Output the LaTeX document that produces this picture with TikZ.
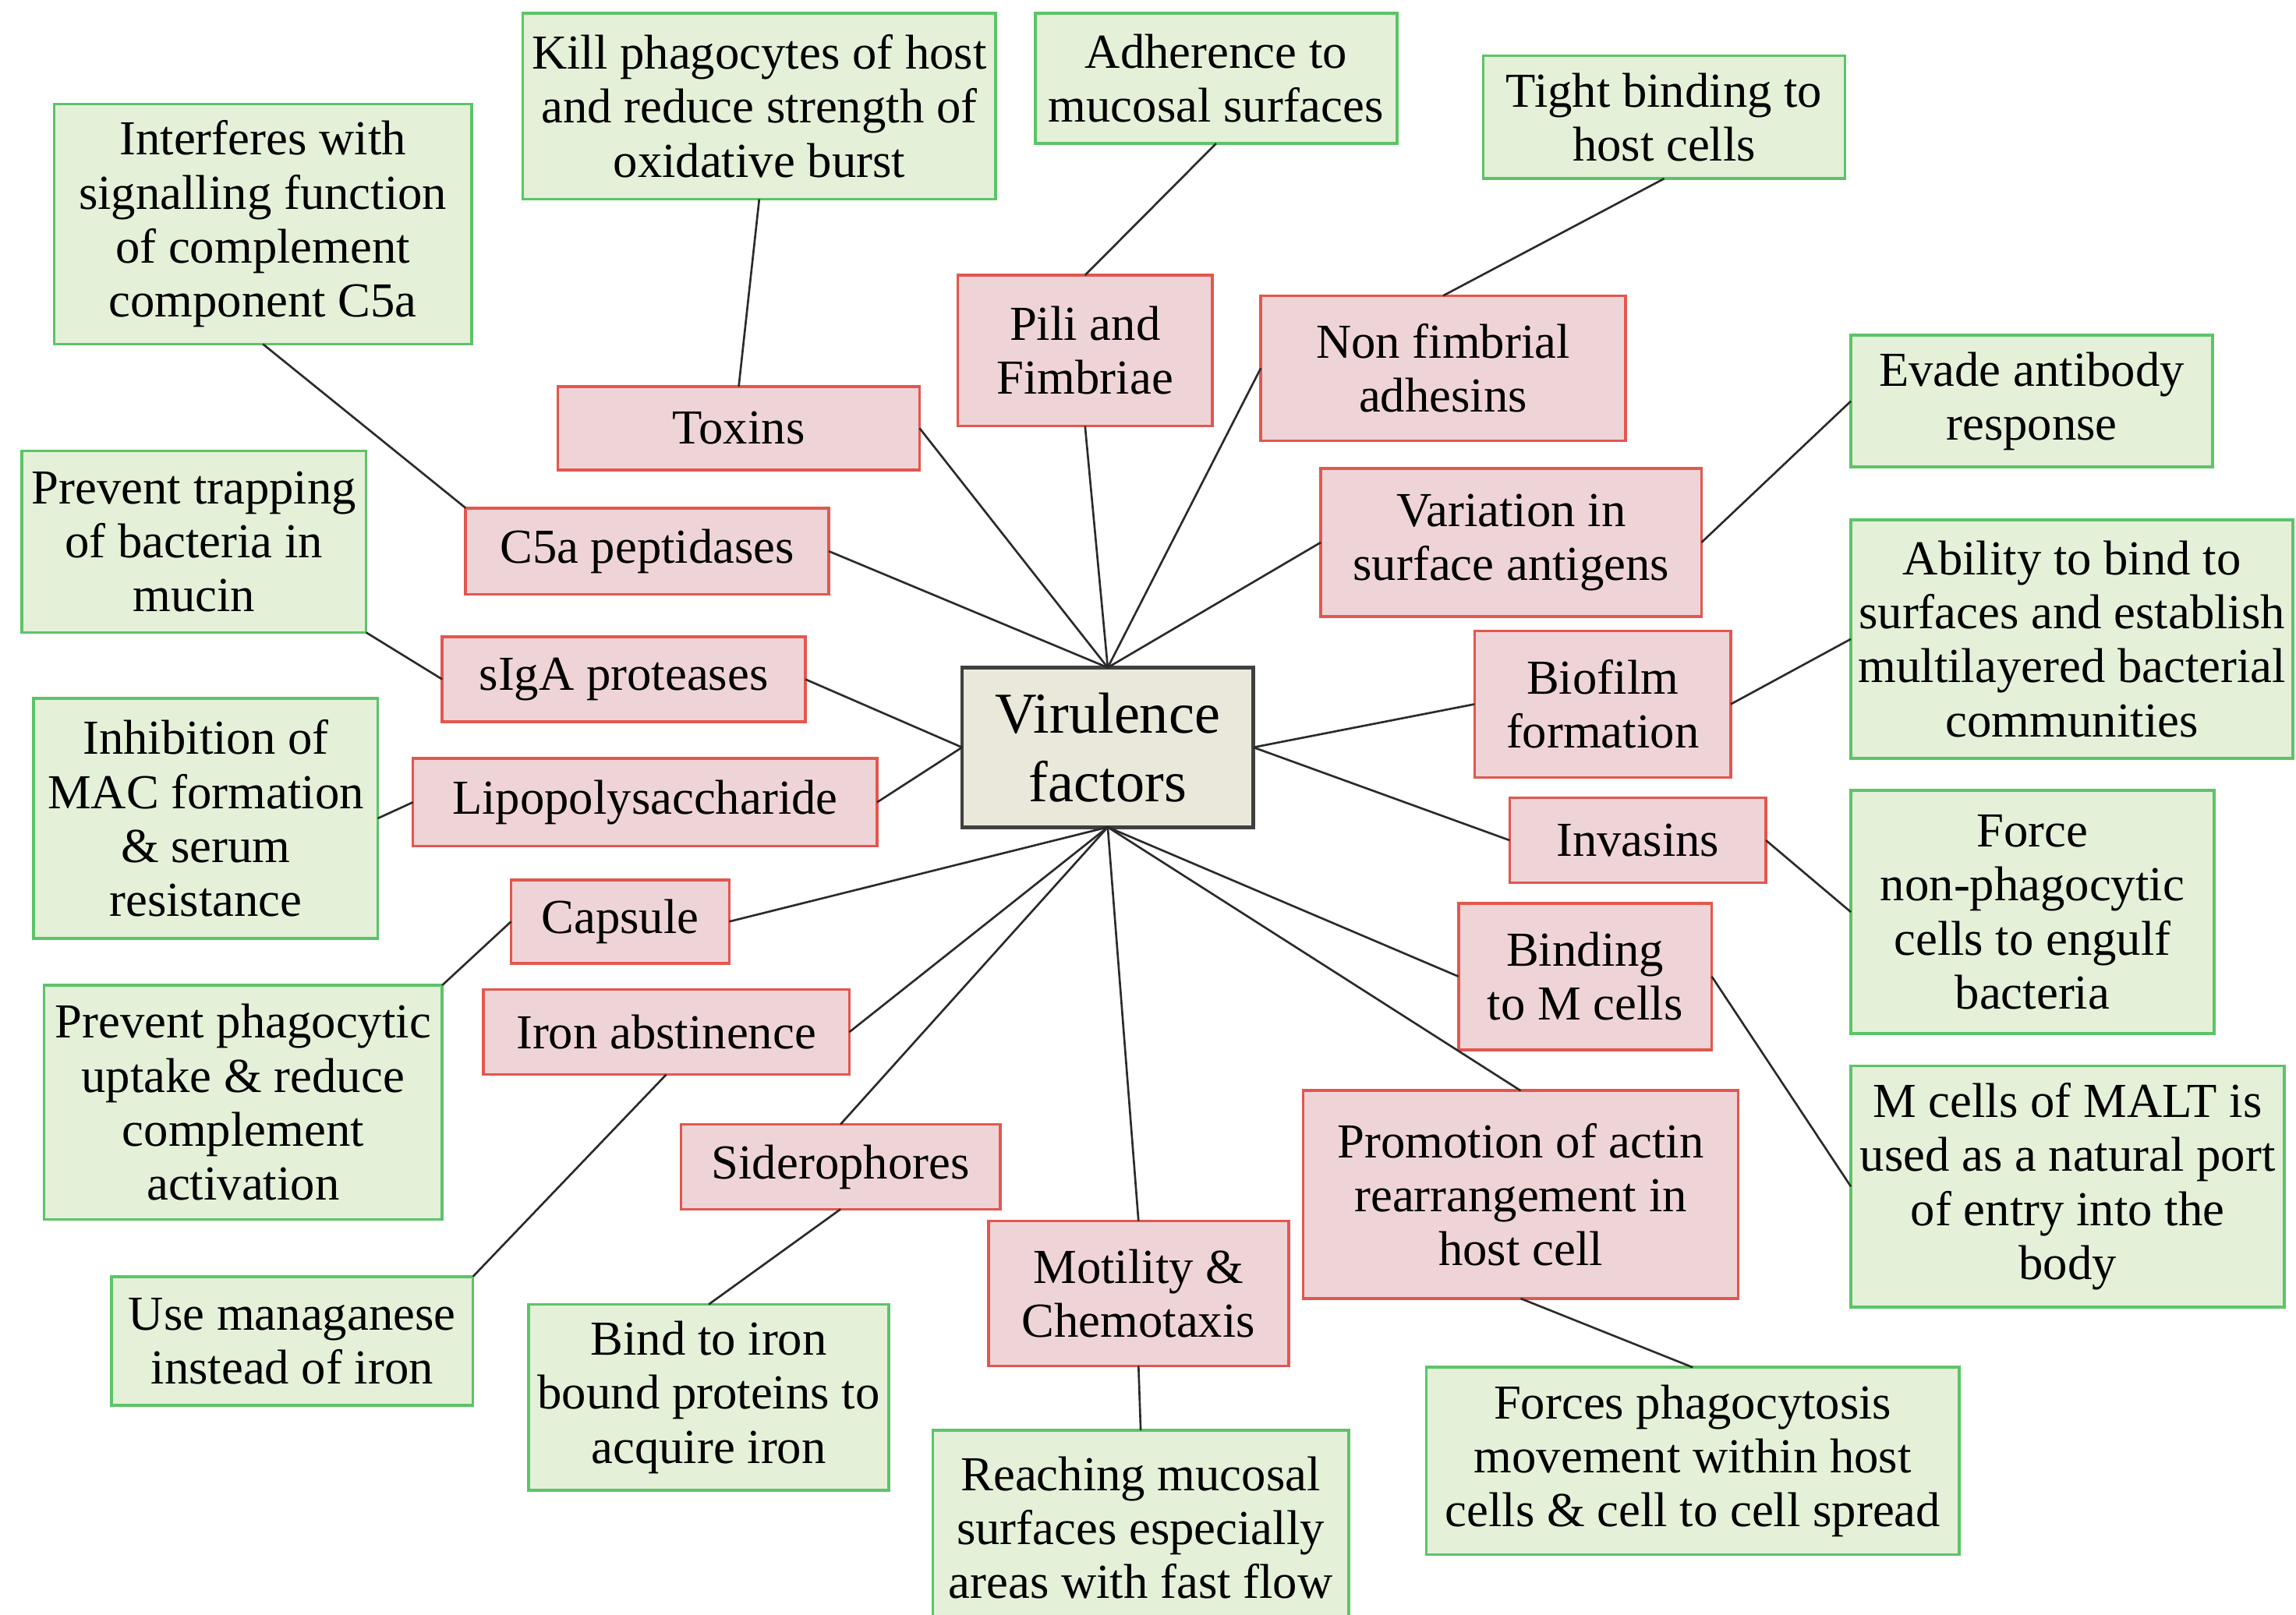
\documentclass[tikz,border=0pt]{standalone}
\usepackage{fontspec}
\setmainfont{Liberation Serif}
\definecolor{gfill}{HTML}{E4F0D8}
\definecolor{gline}{HTML}{5CC468}
\definecolor{rfill}{HTML}{EFD4D7}
\definecolor{rline}{HTML}{E2574F}
\definecolor{cfill}{HTML}{EAE8DA}
\definecolor{cline}{HTML}{404040}
\definecolor{linkcol}{HTML}{2A2A2A}
\begin{document}
\begin{tikzpicture}[x=0.02cm,y=-0.02cm,
  every node/.style={inner sep=0pt, outer sep=0pt, align=center, font=\fontsize{19}{21}\selectfont},
  sz/.style 2 args={minimum width=#1*0.02cm, minimum height=#2*0.02cm},
  gbox/.style={draw=gline, fill=gfill, line width=1.1pt},
  rbox/.style={draw=rline, fill=rfill, line width=1.1pt},
  cbox/.style={draw=cline, fill=cfill, line width=1.5pt, font=\fontsize{22.5}{26.7}\selectfont},
  linkline/.style={draw=linkcol, line width=0.8pt}]
\useasboundingbox (0,0) rectangle (1568,1103);
\clip (0,0) rectangle (1568,1103);
\fill[white] (0,0) rectangle (1568,1103);

% central node
\node[cbox, sz={199}{109}] (vf) at (756.5,510.5) {Virulence\\factors};

% red boxes
\node[rbox, sz={247}{57}]  (r1)  at (504.5,292.5) {Toxins};
\node[rbox, sz={174}{103}] (r2)  at (741,239.5)   {Pili and\\Fimbriae};
\node[rbox, sz={249}{99}]  (r3)  at (985.5,251.5) {Non fimbrial\\adhesins};
\node[rbox, sz={260}{101}] (r4)  at (1032,370.5)  {Variation in\\surface antigens};
\node[rbox, sz={175}{100}] (r5)  at (1094.5,481)  {Biofilm\\formation};
\node[rbox, sz={175}{58}]  (r6)  at (1118.5,574)  {Invasins};
\node[rbox, sz={173}{100}] (r7)  at (1082.5,667)  {Binding\\to M cells};
\node[rbox, sz={297}{142}] (r8)  at (1038.5,816)  {Promotion of actin\\rearrangement in\\host cell};
\node[rbox, sz={205}{99}]  (r9)  at (777.5,883.5) {Motility \&\\Chemotaxis};
\node[rbox, sz={218}{58}]  (r10) at (574,797)     {Siderophores};
\node[rbox, sz={250}{58}]  (r11) at (455,705)     {Iron abstinence};
\node[rbox, sz={149}{57}]  (r12) at (423.5,629.5) {Capsule};
\node[rbox, sz={317}{60}]  (r13) at (440.5,548)   {Lipopolysaccharide};
\node[rbox, sz={248}{58}]  (r14) at (426,464)     {sIgA proteases};
\node[rbox, sz={248}{59}]  (r15) at (442,376.5)   {C5a peptidases};

% green boxes
\node[gbox, sz={285}{164}] (g1)  at (179.5,153)   {Interferes with\\signalling function\\of complement\\component C5a};
\node[gbox, sz={323}{127}] (g2)  at (518.5,72.5)  {Kill phagocytes of host\\and reduce strength of\\oxidative burst};
\node[gbox, sz={247}{89}]  (g3)  at (830.5,53.5)  {Adherence to\\mucosal surfaces};
\node[gbox, sz={247}{84}]  (g4)  at (1136.5,80)   {Tight binding to\\host cells};
\node[gbox, sz={247}{90}]  (g5)  at (1387.5,274)  {Evade antibody\\response};
\node[gbox, sz={302}{163}] (g6)  at (1415,436.5)  {Ability to bind to\\surfaces and establish\\multilayered bacterial\\communities};
\node[gbox, sz={248}{166}] (g7)  at (1388,623)    {Force\\non-phagocytic\\cells to engulf\\bacteria};
\node[gbox, sz={296}{165}] (g8)  at (1412,810.5)  {M cells of MALT is\\used as a natural port\\of entry into the\\body};
\node[gbox, sz={364}{128}] (g9)  at (1156,998)    {Forces phagocytosis\\movement within host\\cells \& cell to cell spread};
\node[gbox, sz={284}{133}] (g10) at (779,1043.5)  {Reaching mucosal\\surfaces especially\\areas with fast flow};
\node[gbox, sz={246}{127}] (g11) at (484,954.5)   {Bind to iron\\bound proteins to\\acquire iron};
\node[gbox, sz={247}{88}]  (g12) at (199.5,916)   {Use managanese\\instead of iron};
\node[gbox, sz={272}{160}] (g13) at (166,753)     {Prevent phagocytic\\uptake \& reduce\\complement\\activation};
\node[gbox, sz={235}{164}] (g14) at (140.5,559)   {Inhibition of\\MAC formation\\\& serum\\resistance};
\node[gbox, sz={235}{124}] (g15) at (132.5,370)   {Prevent trapping\\of bacteria in\\mucin};

% connectors: center to red
\draw[linkline] (r15.east) -- (vf.north);
\draw[linkline] (r1.east) -- (vf.north);
\draw[linkline] (r2.south) -- (vf.north);
\draw[linkline] (r3.west) -- (vf.north);
\draw[linkline] (r4.west) -- (vf.north);
\draw[linkline] (r14.east) -- (vf.west);
\draw[linkline] (r13.east) -- (vf.west);
\draw[linkline] (r5.west) -- (vf.east);
\draw[linkline] (r6.west) -- (vf.east);
\draw[linkline] (r12.east) -- (vf.south);
\draw[linkline] (r11.east) -- (vf.south);
\draw[linkline] (r10.north) -- (vf.south);
\draw[linkline] (r9.north) -- (vf.south);
\draw[linkline] (r7.west) -- (vf.south);
\draw[linkline] (r8.north) -- (vf.south);

% connectors: red to green
\draw[linkline] (g1.south) -- (r15.north west);
\draw[linkline] (g2.south) -- (r1.north);
\draw[linkline] (g3.south) -- (r2.north);
\draw[linkline] (g4.south) -- (r3.north);
\draw[linkline] (g5.west) -- (r4.east);
\draw[linkline] (g6.west) -- (r5.east);
\draw[linkline] (g7.west) -- (r6.east);
\draw[linkline] (g8.west) -- (r7.east);
\draw[linkline] (g9.north) -- (r8.south);
\draw[linkline] (g10.north) -- (r9.south);
\draw[linkline] (g11.north) -- (r10.south);
\draw[linkline] (g12.north east) -- (r11.south);
\draw[linkline] (g13.north east) -- (r12.west);
\draw[linkline] (g14.east) -- (r13.west);
\draw[linkline] (g15.south east) -- (r14.west);
\end{tikzpicture}
\end{document}
